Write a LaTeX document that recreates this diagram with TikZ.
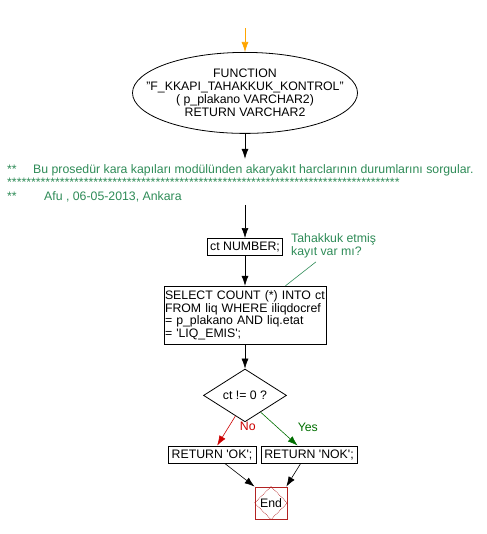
\documentclass[tikz,border=0pt]{standalone}
\usepackage{fontspec}
\setmainfont{Liberation Sans}
\usetikzlibrary{positioning}
\usetikzlibrary{shapes.geometric}
\usetikzlibrary{arrows.meta}
\definecolor{commentColor}{RGB}{46,139,87}
\definecolor{startColor}{RGB}{255,165,0}
\definecolor{noColor}{RGB}{204,0,0}
\definecolor{yesColor}{RGB}{0,110,0}
\definecolor{endColor}{RGB}{178,34,34}
\tikzset{
	statement/.style = {
		draw, line width=0.8pt, inner sep=2pt, minimum height=17pt
	},
	flowLineStyle/.style = {
		line width=0.6pt, draw = black, -{Latex[length=10pt,width=7pt]}
	},
	comment/.style = {
		text=commentColor, anchor=base west, inner sep=0pt
	}
}
\begin{document}
\begin{tikzpicture}[x=1pt, y=1pt, font=\fontsize{12.3}{12.8}\selectfont]
	\useasboundingbox (0,0) rectangle (486,-534);

	\coordinate (IN) at (245,-28);
	\node [ellipse, draw, line width=0.8pt, minimum width=225pt, minimum height=81pt, inner xsep=-25pt, inner ysep=0pt,
		align=center, below = 24pt of IN] (func) {FUNCTION\\"F\_KKAPI\_TAHAKKUK\_KONTROL"\\( p\_plakano VARCHAR2)\\RETURN VARCHAR2};
	\coordinate [below = 25pt of func] (cmtEnd);

	% header comments
	\node [comment] (cmt1) at (7,-174) {\makebox[26pt][l]{**}Bu prosedür kara kapıları modülünden akaryakıt harclarının durumlarını sorgular.};
	\node [comment] (cmt2) at (7,-187) {**********************************************************************************};
	\node [comment] (cmt3) at (7,-201) {\makebox[37pt][l]{**}Afu , 06-05-2013, Ankara};

	\coordinate (cmtStart) at (245,-205);
	\node [statement, below = 33pt of cmtStart, minimum width=75pt] (ct) {ct NUMBER;};
	\node [statement, below = 30pt of ct, text width=160pt, inner xsep=1pt, minimum height=58pt, align=left] (sel)
		{SELECT COUNT (*) INTO ct\\FROM liq WHERE iliqdocref\\= p\_plakano AND liq.etat\\= \textquotesingle LIQ\_EMIS\textquotesingle;};
	\node [diamond, draw, line width=0.8pt, minimum width=83pt, minimum height=39pt, inner sep=0pt,
		below = 24pt of sel] (cond) {ct != 0 ?};
	\node [statement, minimum width=88pt] (ok) at (212,-454.5) {RETURN \textquotesingle OK\textquotesingle;};
	\node [statement, minimum width=96pt] (nok) at (309,-454.5) {RETURN \textquotesingle NOK\textquotesingle;};
	\node [draw=endColor, line width=0.8pt, minimum size=32pt, inner sep=0pt] (endn) at (271,-503) {End};
	\draw [endColor, densely dotted, line width=0.7pt] (endn.north) -- (endn.east) -- (endn.south) -- (endn.west) -- cycle;

	\node [text=commentColor, align=left, anchor=west, inner sep=2pt] (note) at (289,-245.5) {Tahakkuk etmiş\\kayıt var mı?};

	\draw [flowLineStyle, draw=startColor, -{Latex[length=10pt,width=7pt,fill=startColor]}] (IN) to (func);
	\draw [flowLineStyle] (func) to (cmtEnd);
	\draw [flowLineStyle] (cmtStart) to (ct);
	\draw [flowLineStyle] (ct) to (sel);
	\draw [flowLineStyle] (sel) to (cond);
	\draw [flowLineStyle, draw=noColor, -{Latex[length=10pt,width=7pt,fill=noColor]}] (cond.245) to node[right=10pt, yshift=5pt, noColor] {No} (ok.60);
	\draw [flowLineStyle, draw=yesColor, -{Latex[length=10pt,width=7pt,fill=yesColor]}] (cond.313) to node[right=15pt, yshift=2pt, yesColor] {Yes} (nok.142);
	\draw [flowLineStyle] (ok.325) to (endn.135);
	\draw [flowLineStyle] (nok.227) to (endn.47);
	\draw [commentColor, line width=0.6pt] (sel.36) to ([xshift=27pt,yshift=-2pt]note.south west);
\end{tikzpicture}
\end{document}
